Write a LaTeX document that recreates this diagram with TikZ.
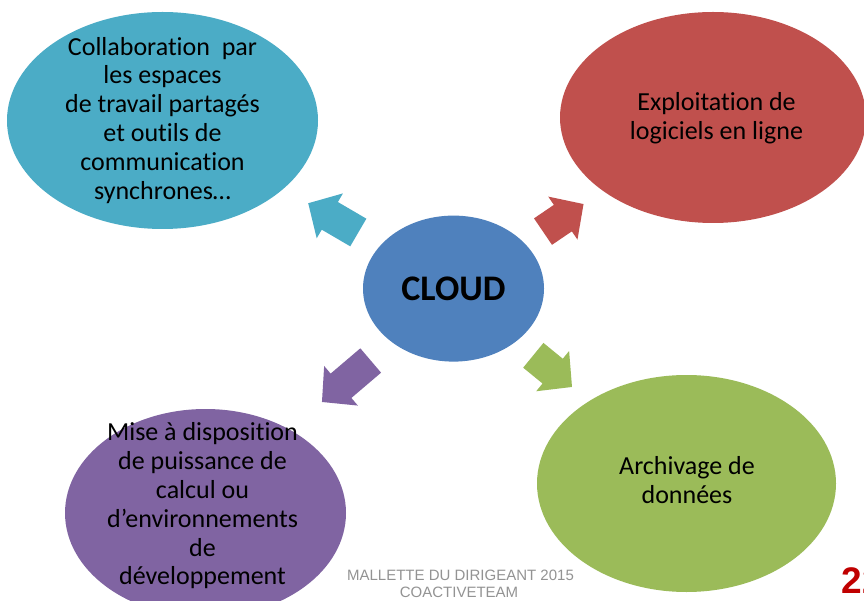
\documentclass[tikz,border=0pt]{standalone}
\usepackage{fontspec}
\setmainfont{Carlito}[Ligatures=NoCommon]
\newfontfamily\footfont{Liberation Sans}
\usetikzlibrary{shapes.geometric}
\definecolor{cteal}{HTML}{4BACC6}
\definecolor{cred}{HTML}{C0504D}
\definecolor{cgreen}{HTML}{9BBB59}
\definecolor{cpurple}{HTML}{8064A2}
\definecolor{cblue}{HTML}{4F81BD}
\definecolor{cgray}{HTML}{939393}
\definecolor{cnum}{HTML}{C00000}
% block arrow: colour, tail coordinate name, angle, length
\newcommand\bkarrow[4]{%
  \fill[#1, shift={(#2)}, rotate=#3]
    (0,-16) -- (#4-25,-16) -- (#4-25,-26) -- (#4,0) -- (#4-25,26) -- (#4-25,16) -- (0,16) -- cycle;}
\begin{document}
\begin{tikzpicture}[x=1pt,y=-1pt,
  bubble/.style={ellipse, draw=none, inner sep=0pt},
  bubbletext/.style={align=center, inner sep=0pt, text=black,
    font=\fontsize{26}{28.8}\selectfont},
  foot/.style={inner sep=0pt, anchor=base, text=cgray,
    font=\footfont\fontsize{15}{17}\selectfont}]
\clip (0,0) rectangle (864,601);
\fill[white] (0,0) rectangle (864,601);

% bubbles
\node[bubble, fill=cteal, minimum width=311pt, minimum height=217pt] (collab) at (162.5,120.5) {};
\node[bubble, fill=cred, minimum width=306pt, minimum height=211pt] (exploit) at (713,117.5) {};
\node[bubble, fill=cgreen, minimum width=299pt, minimum height=217pt] (archiv) at (686.5,483.5) {};
\node[bubble, fill=cpurple, minimum width=281pt, minimum height=208pt] (mise) at (205.5,513) {};
\node[bubble, fill=cblue, minimum width=181pt, minimum height=146pt,
      font=\bfseries\fontsize{36}{40}\selectfont, text=black] (cloud) at (453.5,288.6) {CLOUD};

% bubble texts
\node[bubbletext] (tcollab) at (162.5,120.2) {Collaboration~ par\\les espaces\\de travail partagés\\et outils de\\communication\\synchrones…};
\node[bubbletext] (texploit) at (716.5,118.5) {Exploitation de\\logiciels en ligne};
\node[bubbletext] (tarchiv) at (687,480.4) {Archivage de\\données};
\node[bubbletext] (tmise) at (202.5,506) {Mise à disposition\\de puissance de\\calcul ou\\d’environnements\\de\\développement};

% block arrows (tails near CLOUD)
\coordinate (aTeal) at (358.3,232.5);
\coordinate (aRed) at (543,231.6);
\coordinate (aPurple) at (370.7,360.5);
\coordinate (aGreen) at (533.3,355.3);
\bkarrow{cteal}{aTeal}{149.7}{58}
\bkarrow{cred}{aRed}{34.2}{49}
\bkarrow{cpurple}{aPurple}{220.4}{64}
\bkarrow{cgreen}{aGreen}{-39.3}{50}

% footer
\node[foot] (foot1) at (460.5,580.3) {MALLETTE DU DIRIGEANT 2015};
\node[foot] (foot2) at (459,597) {COACTIVETEAM};
\node[inner sep=0pt, anchor=base west, text=cnum,
      font=\footfont\bfseries\fontsize{37}{40}\selectfont] (pnum) at (841.5,593.3) {22};
\end{tikzpicture}
\end{document}
